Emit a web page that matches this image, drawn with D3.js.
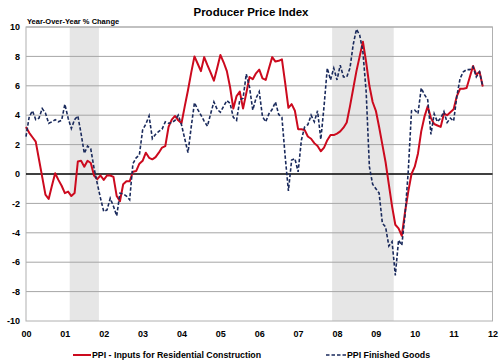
<!DOCTYPE html>
<html><head><meta charset="utf-8">
<script src="https://cdn.jsdelivr.net/npm/d3@7"></script>
<style>body{margin:0;background:#fff}svg{display:block}text{font-family:Arial,"Liberation Sans",sans-serif;font-weight:bold;fill:#000}</style>
</head><body>
<svg id="c" width="500" height="364"></svg>
<script>
// Monthly, Jan 2000 .. Oct 2011
const inputsResidential = [
  3.2, 2.8, 2.5, 2.2, 1.0, -0.2, -1.4, -1.7, -0.8, 0.05, -0.4, -0.8,
  -1.3, -1.2, -1.5, -1.3, 0.85, 0.9, 0.5, 0.9, 0.75, -0.1, -0.35, -0.1,
  -0.4, -0.1, -0.1, -0.2, -1.5, -1.85, -0.7, -0.5, -0.5, 0.15, 0.2, 0.7,
  0.9, 1.45, 1.1, 1.0, 1.15, 1.45, 1.8, 1.9, 3.2, 3.7, 3.95, 3.65,
  3.45, 4.6, 5.7, 6.9, 8.0, 7.5, 7.0, 7.95, 7.4, 6.9, 6.35, 7.2,
  8.1, 7.6, 7.0, 5.9, 4.45, 5.3, 5.6, 4.45, 5.5, 6.6, 6.45, 6.85,
  7.1, 6.5, 6.4, 7.2, 7.95, 7.65, 7.7, 7.8, 6.2, 4.5, 4.75, 4.3,
  3.05, 3.05, 3.0, 2.55, 2.4, 2.1, 1.9, 1.55, 1.8, 2.3, 2.65, 2.65,
  2.75, 2.9, 3.15, 3.5, 4.6, 5.8, 7.0, 8.0, 9.0, 7.6, 6.0, 4.9,
  4.3, 3.2, 2.0, 0.8, -0.7, -2.2, -3.45, -3.7, -4.2, -2.6, -1.2, 0.0,
  0.5, 1.4, 2.9, 3.9, 4.6, 3.8, 3.4, 3.3, 3.2, 4.1, 4.0, 4.2,
  4.4, 5.3, 5.8, 5.8, 5.85, 6.6, 7.35, 6.75, 6.95, 5.95
];
const finishedGoods = [
  2.55, 3.9, 4.3, 3.7, 3.8, 4.45, 4.15, 3.45, 3.55, 3.7, 3.55, 3.65,
  4.75, 3.8, 3.1, 3.7, 3.95, 2.75, 1.4, 1.9, 1.7, 0.4, -0.65, -1.65,
  -2.55, -2.45, -1.65, -2.2, -2.85, -1.3, -1.35, -1.5, -1.75, 0.7, 1.1, 1.3,
  3.0, 3.4, 3.95, 2.4, 2.7, 2.9, 3.05, 3.55, 3.45, 3.5, 3.65, 4.0,
  3.35, 2.4, 1.45, 3.2, 4.85, 4.4, 4.0, 3.6, 3.25, 4.1, 4.9, 4.4,
  4.2, 4.6, 5.0, 4.8, 3.85, 3.65, 5.05, 5.15, 6.8, 5.9, 4.35, 5.15,
  5.6, 3.9, 3.55, 4.1, 4.4, 4.9, 4.05, 3.85, 1.2, -1.15, 0.95, 1.05,
  0.15, 2.3, 3.2, 3.35, 4.0, 3.55, 4.3, 2.35, 4.6, 7.2, 6.4, 7.2,
  6.4, 7.4, 6.6, 6.6, 7.2, 8.8, 9.85, 9.45, 8.3, 5.6, 0.5, -0.7,
  -1.0, -1.3, -3.35, -3.6, -4.9, -4.6, -6.9, -4.5, -4.85, -2.8, 0.2, 4.3,
  4.35, 4.1, 5.85, 5.4, 5.05, 2.7, 4.1, 3.55, 3.8, 4.25, 3.5, 3.8,
  3.6, 5.3, 6.5, 6.95, 7.1, 7.1, 7.3, 6.6, 6.95, 5.95
];
const yearLabels = ["00","01","02","03","04","05","06","07","08","09","10","11","12"];
const yTicks = [-10,-8,-6,-4,-2,0,2,4,6,8,10];
// recessions as [start, end] month index (0 = Jan 2000)
const recessions = [[13.5, 22.5], [94.5, 113.5]];
const seriesNames = ["PPI - Inputs for Residential Construction", "PPI Finished Goods"];

const L = 26, R = 492.5, T = 27, B = 321;
const svg = d3.select("#c");
const x = d3.scaleLinear().domain([0, 144]).range([L, R]);
const y = d3.scaleLinear().domain([-10, 10]).range([B, T]);

// recession shading
svg.selectAll("rect.rec").data(recessions).enter().append("rect")
  .attr("x", d => x(d[0])).attr("y", T)
  .attr("width", d => x(d[1]) - x(d[0])).attr("height", B - T)
  .attr("fill", "#e6e6e6");

// grid
svg.selectAll("line.g").data(yTicks.filter(v => v !== 0 && v !== -10)).enter().append("line")
  .attr("x1", L).attr("x2", R).attr("y1", d => y(d)).attr("y2", d => y(d))
  .attr("stroke", "#a6a6a6").attr("stroke-width", 1);
// frame
svg.append("rect").attr("x", L).attr("y", T).attr("width", R - L).attr("height", B - T)
  .attr("fill", "none").attr("stroke", "#b0b0b0").attr("stroke-width", 1);
// zero line
svg.append("line").attr("x1", L).attr("x2", R).attr("y1", y(0)).attr("y2", y(0))
  .attr("stroke", "#000").attr("stroke-width", 1.3);

// y axis labels
svg.selectAll("text.yl").data(yTicks).enter().append("text")
  .attr("x", 20).attr("y", d => y(d) + 3.2).attr("text-anchor", "end")
  .attr("font-size", 9).text(d => d);
// x axis labels
svg.selectAll("text.xl").data(yearLabels).enter().append("text")
  .attr("x", (d, i) => x(i * 12) + 0.5).attr("y", 337).attr("text-anchor", "middle")
  .attr("font-size", 9).text(d => d);

const line = d3.line().x((d, i) => x(i)).y(d => y(d));
svg.append("path").datum(inputsResidential).attr("d", line)
  .attr("fill", "none").attr("stroke", "#cc0a1e").attr("stroke-width", 2).attr("stroke-linejoin", "round");
svg.append("path").datum(finishedGoods).attr("d", line)
  .attr("fill", "none").attr("stroke", "#1a2a5c").attr("stroke-width", 1.6)
  .attr("stroke-dasharray", "3.5,2");

// title
svg.append("text").attr("x", 251).attr("y", 16).attr("text-anchor", "middle")
  .attr("font-size", 11.5).text("Producer Price Index");
svg.append("text").attr("x", 27).attr("y", 24).attr("font-size", 7.5).text("Year-Over-Year % Change");

// legend
const lg = svg.append("g");
lg.append("line").attr("x1", 73).attr("x2", 91).attr("y1", 355).attr("y2", 355)
  .attr("stroke", "#cc0a1e").attr("stroke-width", 2);
lg.append("text").attr("x", 92).attr("y", 358).attr("font-size", 8.8).text(seriesNames[0]);
lg.append("line").attr("x1", 326).attr("x2", 347).attr("y1", 355).attr("y2", 355)
  .attr("stroke", "#1a2a5c").attr("stroke-width", 1.6).attr("stroke-dasharray", "3.5,2");
lg.append("text").attr("x", 347).attr("y", 358).attr("font-size", 8.8).text(seriesNames[1]);
</script>
</body></html>
